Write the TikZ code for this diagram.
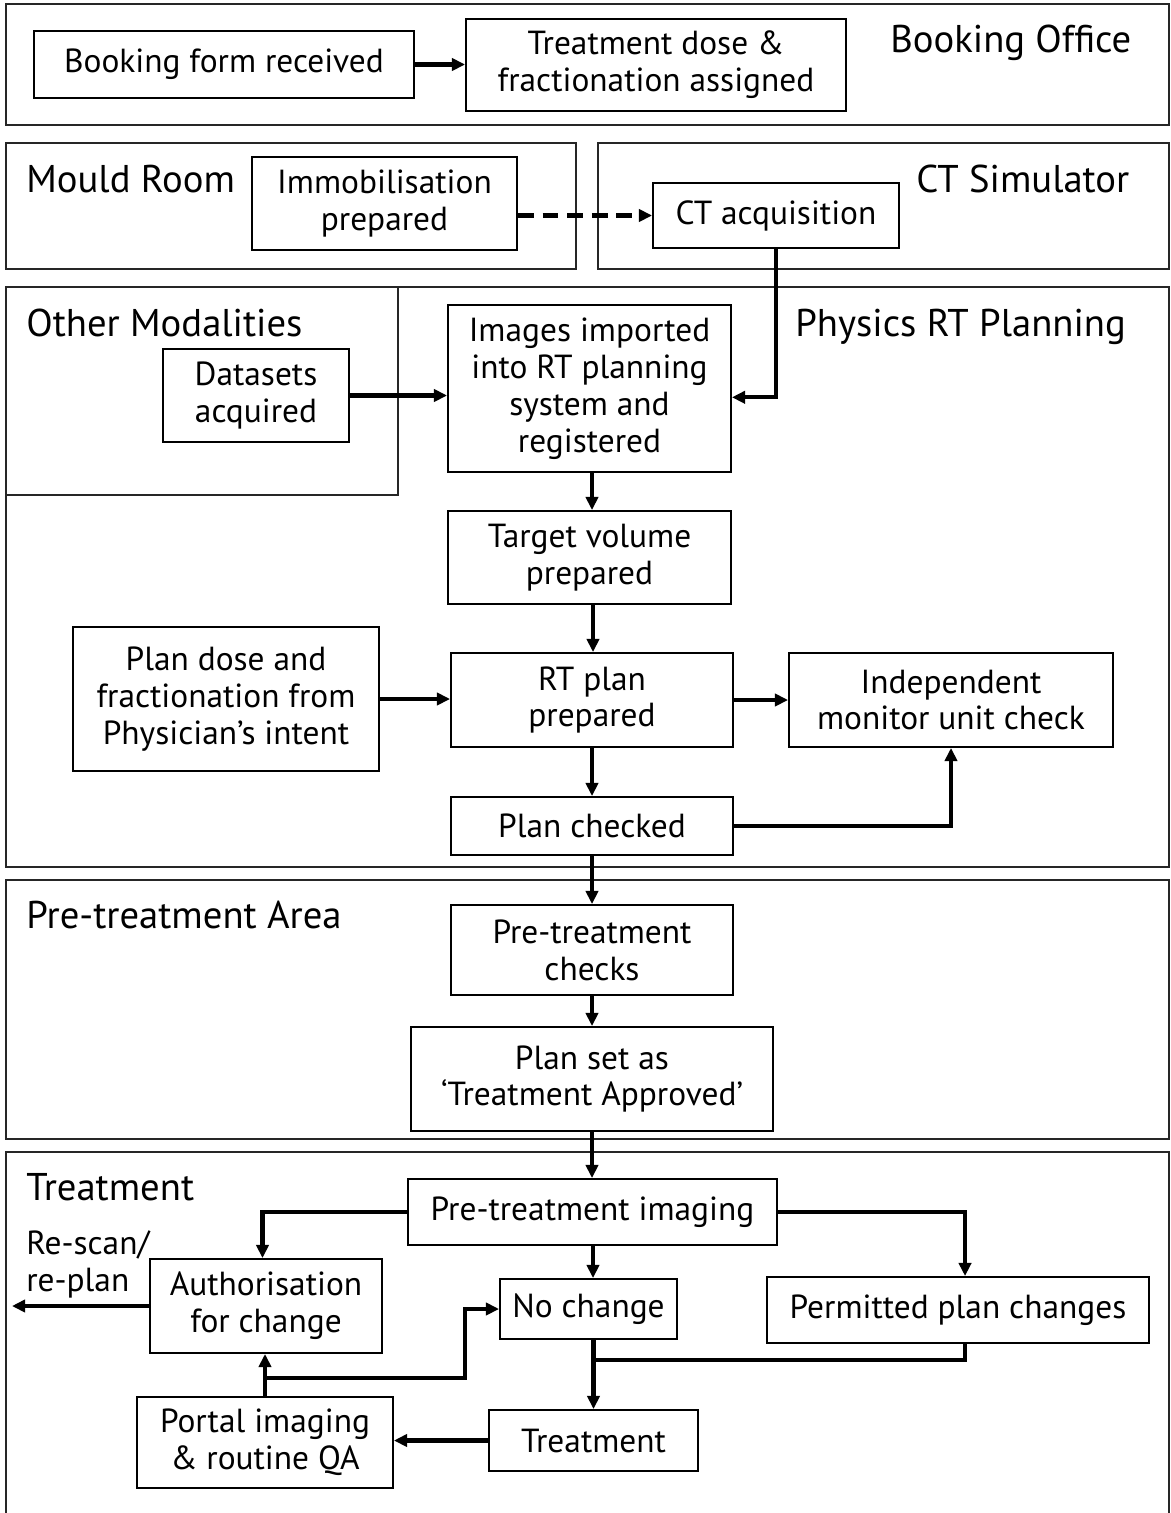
\documentclass[tikz,border=0pt]{standalone}
\usepackage{fontspec}
\setmainfont{PT Sans}
\usepackage{tikz}
\usetikzlibrary{arrows.meta,calc}
\tikzset{>={Triangle[length=7.5pt,width=7pt]}}
\newcommand{\boxfont}{\fontsize{19}{21}\selectfont}
\newcommand{\areafont}{\fontsize{22}{26}\selectfont}
\tikzset{
  box/.style 2 args={draw, line width=1.1pt, minimum width=#1*0.2mm,
    minimum height=#2*0.2mm, align=center, inner sep=0pt, font=\boxfont},
  area/.style={draw=black!85, line width=0.9pt},
  arealabel/.style={anchor=base west, inner sep=0pt, font=\areafont},
  flow/.style={line width=2.3pt},
}

\begin{document}
\begin{tikzpicture}[x=0.2mm, y=-0.2mm]
    \useasboundingbox (0,0) rectangle (1170,1513);

    % areas
    \draw[area] (6,4) rectangle (1169,125);
    \draw[area] (6,143) rectangle (576,269);
    \draw[area] (598,143) rectangle (1169,269);
    \draw[area] (6,287) rectangle (1169,867);
    \draw[area] (6,287) rectangle (398,495);
    \draw[area] (6,880) rectangle (1169,1139);
    \draw[area] (6,1513) -- (6,1152) -- (1169,1152) -- (1169,1513);

    \node[arealabel] at (890,52)  (lbook)  {Booking Office};
    \node[arealabel] at (26,192)  (lmould) {Mould Room};
    \node[arealabel] at (916,192) (lct)    {CT Simulator};
    \node[arealabel] at (26,336)  (lother) {Other Modalities};
    \node[arealabel] at (795,336) (lphys)  {Physics RT Planning};
    \node[arealabel] at (26,928)  (lpre)   {Pre-treatment Area};
    \node[arealabel] at (26,1200) (ltreat) {Treatment};
    \node[anchor=base west, inner sep=0pt, align=left, font=\boxfont] at (26,1291) (lrescan) {Re-scan/\\re-plan};

    % steps
    \node[box={380}{67}] at (224,64.5)    (book)    {Booking form received};
    \node[box={380}{92}] at (656,65)      (dose)    {Treatment dose \&\\fractionation assigned};
    \node[box={265}{93}] at (384.5,203.5) (immob)   {Immobilisation\\prepared};
    \node[box={246}{65}] at (776,215.5)   (ct)      {CT acquisition};
    \node[box={186}{93}] at (256,395.5)   (data)    {Datasets\\acquired};
    \node[box={283}{167}] at (589.5,388.5) (img)    {Images imported\\into RT planning\\system and\\registered};
    \node[box={283}{93}] at (589.5,557.5) (target)  {Target volume\\prepared};
    \node[box={306}{144}] at (226,699)    (intent)  {Plan dose and\\fractionation from\\Physician’s intent};
    \node[box={282}{94}] at (592,700)     (rtplan)  {RT plan\\prepared};
    \node[box={324}{94}] at (951,700)     (muc)     {Independent\\monitor unit check};
    \node[box={282}{58}] at (592,826)     (checked) {Plan checked};
    \node[box={282}{90}] at (592,950)     (ptcheck) {Pre-treatment\\checks};
    \node[box={362}{104}] at (592,1079)   (approved) {Plan set as\\‘Treatment Approved’};
    \node[box={369}{66}] at (592.5,1212)  (ptimg)   {Pre-treatment imaging};
    \node[box={232}{94}] at (266,1306)    (auth)    {Authorisation\\for change};
    \node[box={177}{60}] at (588.5,1309)  (nochange) {No change};
    \node[box={382}{66}] at (958,1310)    (perm)    {Permitted plan changes};
    \node[box={256}{91}] at (265,1442.5)  (portal)  {Portal imaging\\\& routine QA};
    \node[box={209}{61}] at (593.5,1440.5) (treat)  {Treatment};

    \coordinate (out)   at (12,1306);
    \coordinate (join)  at (593,1360);
    \coordinate (split) at (265,1378);

    % flows
    \draw[flow,->] (book.east) -- (dose.west |- book.east);
    \draw[flow,->,dash pattern=on 9pt off 5pt] (immob.east |- ct.west) -- (ct.west);
    \draw[flow,->] (ct.south) |- ([yshift=-5pt]img.east);
    \draw[flow,->] (data.east) -- (img.west |- data.east);
    \draw[flow,->] (img.south -| 592,0) -- (target.north -| 592,0);
    \draw[flow,->] (target.south -| 593,0) -- (rtplan.north -| 593,0);
    \draw[flow,->] (intent.east) -- (rtplan.west |- intent.east);
    \draw[flow,->] (rtplan.east) -- (muc.west);
    \draw[flow,->] (rtplan.south) -- (checked.north);
    \draw[flow,->] (checked.east) -| (muc.south);
    \draw[flow,->] (checked.south) -- (ptcheck.north);
    \draw[flow,->] (ptcheck.south) -- (approved.north);
    \draw[flow,->] (approved.south) -- (ptimg.north -| approved.south);
    \draw[flow,->] (ptimg.west) -| ([xshift=-2pt]auth.north);
    \draw[flow,->] (ptimg.south -| 593,0) -- (nochange.north -| 593,0);
    \draw[flow,->] (ptimg.east) -| ([xshift=4pt]perm.north);
    \draw[flow,->] (auth.west) -- (out);
    \draw[flow,->] (nochange.south -| treat.north) -- (treat.north);
    \draw[flow] ([xshift=4pt]perm.south) |- (join);
    \draw[flow,->] (treat.west) -- (portal.east |- treat.west);
    \draw[flow,->] (portal.north) -- (auth.south -| portal.north);
    \draw[flow,->] (split) -- ++(200,0) |- (nochange.west);
\end{tikzpicture}
\end{document}
